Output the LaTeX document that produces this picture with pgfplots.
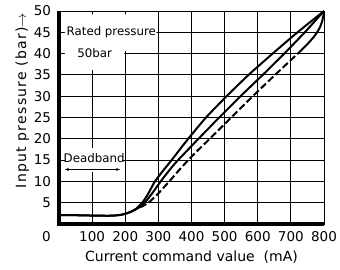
\documentclass[border=0pt]{standalone}
\usepackage{fontspec}
\setmainfont{DejaVu Sans}
\newfontfamily\ylabfont[LetterSpace=9]{DejaVu Sans}
\usepackage{pgfplots}
\usetikzlibrary{arrows.meta}
\pgfplotsset{compat=1.18}
\begin{document}
\begin{tikzpicture}
\begin{axis}[name=ax, scale only axis, width=265bp, height=213bp,
  xmin=0, xmax=800, ymin=0, ymax=50,
  xtick={100,200,...,800}, ytick={5,10,...,50},
  extra x ticks={0},
  extra x tick style={grid=none, xticklabel style={xshift=-12.5bp}},
  grid=major, major grid style={black, line width=0.9bp},
  major tick length=0pt,
  axis line style={black, line width=0.9bp},
  tick label style={font=\fontsize{13.5bp}{16bp}\selectfont},
  /pgf/number format/assume math mode=true,
  xticklabel style={yshift=-3.5bp},
  yticklabel style={xshift=-4.5bp},
  xlabel={Current command value\ \ (mA)},
  xlabel style={font=\fontsize{14bp}{16bp}\selectfont, yshift=-3bp},
  ylabel={\ylabfont Input pressure (bar)$\rightarrow$},
  ylabel style={font=\fontsize{14bp}{16bp}\selectfont, at={(ticklabel cs:0.58)}, yshift=-2bp},
  clip=false,
]
% white boxes behind labels inside the grid
\fill[white] (axis cs:18,49.2) -- (axis cs:294,49.2) -- (axis cs:294,40.6) -- (axis cs:197,40.6) -- (axis cs:197,36.2) -- (axis cs:18,36.2) -- cycle;
\fill[white] (axis cs:18,12.2) rectangle (axis cs:194,17.8);
\node[font=\fontsize{11.8bp}{14bp}\selectfont] at (axis cs:158,45.1) {Rated pressure};
\node[font=\fontsize{11.8bp}{14bp}\selectfont] at (axis cs:108,40.1) {50bar};
\node[font=\fontsize{11.8bp}{14bp}\selectfont] at (axis cs:106,15.5) {Deadband};
\draw[{Stealth[length=4bp,width=3bp]}-{Stealth[length=4bp,width=3bp]}, line width=0.6bp] (axis cs:18,12.8) -- (axis cs:184,12.8);

\addplot[black, line width=2bp, smooth, tension=0.4] coordinates {
(0,2.1)(60,2.05)(120,1.95)(160,1.95)(190,2.2)(215,2.8)(235,3.7)(255,5.4)(270,7.2)(288,9.8)(310,12.1)(340,15.0)(388,19.8)(445,25.1)(506,30)(575,35.2)(645,40)(720,45)(800,50)};
\addplot[black, line width=2bp, smooth, tension=0.4] coordinates {
(0,2.1)(60,2.05)(120,1.95)(160,1.95)(190,2.2)(215,2.8)(240,3.8)(262,5.3)(285,7.6)(309,10.2)(350,14.2)(421,20)(485,25.1)(548,30)(615,35)(680,40)(742,45)(800,50)};
\addplot[black, line width=2bp, smooth, tension=0.4, dash pattern=on 7bp off 3bp] coordinates {
(245,3.9)(270,5.0)(300,7.2)(333,10.0)(370,13.3)(410,16.6)(455,20)(520,25)(585,30)(655,35.2)(725,40.3)};
\addplot[black, line width=2bp, smooth, tension=0.4] coordinates {
(725,40.3)(752,42.4)(772,44.2)(786,45.9)(794,47.5)(798,48.9)(800,50)};
\end{axis}
\draw[black, line width=3bp] (ax.north west) -- (ax.south west) -- (ax.south east);
\pgfresetboundingbox
\path (ax.south west) ++(-59bp,-46bp) rectangle ++(340bp,270bp);
\end{tikzpicture}
\end{document}
